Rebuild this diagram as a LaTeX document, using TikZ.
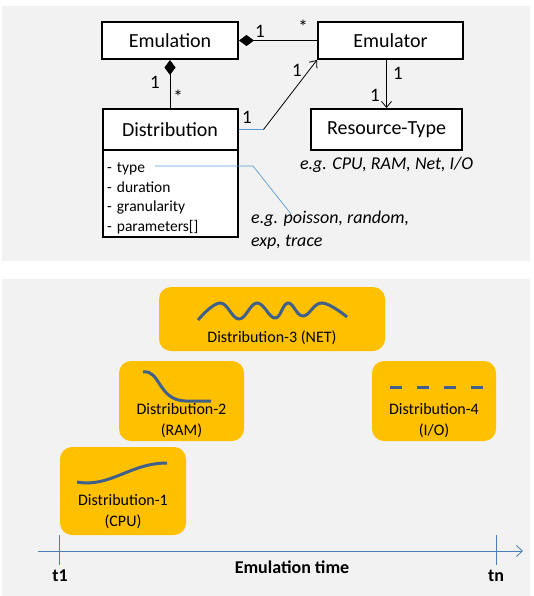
\documentclass[tikz,border=0pt]{standalone}
\usepackage{fontspec}
\setmainfont{Carlito}
\usetikzlibrary{arrows,arrows.meta}

\definecolor{panelgray}{RGB}{242,242,242}
\definecolor{distorange}{RGB}{255,192,0}
\definecolor{curveblue}{RGB}{64,96,140}
\definecolor{noteblue}{RGB}{91,155,213}
\definecolor{axisblue}{RGB}{74,126,187}

\begin{document}
\begin{tikzpicture}[x=1pt, y=1pt, node distance=89pt,
    >={Straight Barb[length=6pt,width=10pt]},
    umlbox/.style={rectangle, draw, line width=2pt, fill=white, inner sep=0pt,
                   minimum height=37pt, font=\fontsize{20}{24}\selectfont},
    attrtext/.style={inner sep=0pt, text width=128pt, align=left,
                     font=\fontsize{15.5}{19.5}\selectfont},
    distbox/.style={rectangle, rounded corners=12pt, fill=distorange, inner sep=0pt},
    distlabel/.style={align=center, font=\fontsize{16}{21}\selectfont},
    mult/.style={font=\fontsize{19}{22}\selectfont, inner sep=1pt},
    note/.style={font=\fontsize{18}{23}\selectfont\itshape, align=left, inner sep=1pt},
    timelabel/.style={font=\fontsize{18}{22}\selectfont\bfseries, inner sep=1pt},
    arrow/.style={->, line width=0.8pt},
    comp/.style={-{Diamond[length=15pt,width=11pt]}, line width=0.8pt},
    noteline/.style={noteblue, line width=0.7pt},
    curve/.style={curveblue, line width=3pt},
    timeline/.style={axisblue, line width=0.8pt}]

    % panels
    \useasboundingbox (0,0) rectangle (533,-596);
    \fill[panelgray] (2,-6) rectangle (530,-261);
    \fill[panelgray] (2,-279) rectangle (530,-596);

    % class diagram
    \node[umlbox, minimum width=136pt] (emulation) at (170,-40.5) {Emulation};
    \node[umlbox, minimum width=145pt, right of=emulation, node distance=220.5pt] (emulator) {Emulator};
    \node[umlbox, minimum width=135pt, minimum height=41pt, below of=emulation] (dist) {Distribution};
    \node[umlbox, minimum width=135pt, minimum height=87pt, below of=dist, node distance=64pt] (attrs) {};
    \node[attrtext, below of=dist, node distance=69pt, xshift=1pt] (attrlist) {- type\\- duration\\- granularity\\- parameters[]};
    \node[umlbox, minimum width=151pt, minimum height=41pt, below of=emulator, xshift=-4pt] (rtype) {Resource-Type};

    \draw[comp] (emulator) -- (emulation);
    \draw[comp] (dist.north) -- (emulation.south);
    \coordinate (bend) at ([xshift=25pt]dist.east);
    \draw[noteline] (dist.east) -- (bend);
    \draw[arrow] (bend) -- (emulator.south west);
    \draw[arrow] (emulator.south -| rtype.north) -- (rtype.north);

    \node[mult] (m1) at (260,-31) {1};
    \node[mult] (m2) at (303,-27) {*};
    \node[mult] (m3) at (155,-82) {1};
    \node[mult] (m4) at (178,-97) {*};
    \node[mult] (m5) at (247,-117) {1};
    \node[mult] (m6) at (297,-70) {1};
    \node[mult] (m7) at (398,-73) {1};
    \node[mult] (m8) at (375,-95) {1};

    \node[note, below of=rtype, node distance=35.5pt] (rnote) {e.g. CPU, RAM, Net, I/O};
    \node[note, anchor=north west] (dnote) at (250,-210) {e.g. poisson, random,\\exp, trace};
    \coordinate (typeend) at (155,-166);
    \coordinate (kink) at (253,-166);
    \coordinate (notetip) at (291,-214);
    \draw[noteline] (typeend) -- (kink) -- (notetip);

    % distributions over time
    \node[distbox, minimum width=226pt, minimum height=64pt] (d3) at (272,-319) {};
    \node[distlabel, below of=d3, node distance=19pt] (d3label) {Distribution-3 (NET)};
    \node[distbox, minimum width=125pt, minimum height=80pt] (d2) at (181.5,-401) {};
    \node[distlabel, below of=d2, node distance=19.5pt] (d2label) {Distribution-2\\(RAM)};
    \node[distbox, minimum width=124pt, minimum height=80pt] (d4) at (434,-401) {};
    \node[distlabel, below of=d4, node distance=19.5pt] (d4label) {Distribution-4\\(I/O)};
    \node[distbox, minimum width=126pt, minimum height=88pt] (d1) at (123,-491) {};
    \node[distlabel, below of=d1, node distance=21pt] (d1label) {Distribution-1\\(CPU)};

    \draw[curve] plot[smooth, tension=0.7] coordinates {(198,-320) (220,-303) (239,-319)
        (257,-303) (275,-318) (288,-303) (303,-316) (322,-303) (347,-317)};
    \draw[curve] (143,-372) .. controls (160,-369) and (158,-400) .. (185,-401) -- (211,-401);
    \draw[curve, dash pattern=on 12pt off 15pt] (390,-387) -- (483,-387);
    \draw[curve] (77,-482) .. controls (110,-488) and (130,-463) .. (167,-463);

    % time axis
    \coordinate (axstart) at (38,-551);
    \coordinate (axend) at (523,-551);
    \draw[timeline, -{Straight Barb[length=6pt,width=11pt]}] (axstart) -- (axend);
    \coordinate (t1top) at (59,-535);
    \coordinate (t1bot) at (59,-565);
    \coordinate (tntop) at (496,-535);
    \coordinate (tnbot) at (496,-565);
    \draw[timeline] (t1top) -- (t1bot);
    \draw[timeline] (tntop) -- (tnbot);
    \node[timelabel] (t1) at (60,-576) {t1};
    \node[timelabel] (tn) at (496,-576) {tn};
    \node[timelabel] (emutime) at (292,-567) {Emulation time};
\end{tikzpicture}
\end{document}
